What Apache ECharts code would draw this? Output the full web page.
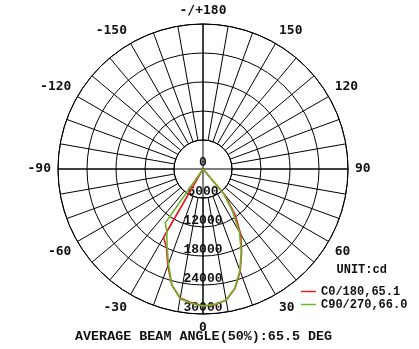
<!DOCTYPE html>
<html>
<head>
<meta charset="utf-8">
<script src="https://cdn.jsdelivr.net/npm/echarts@6/dist/echarts.min.js"></script>
<style>html,body{margin:0;padding:0;background:#fff;}#c{width:419px;height:349px;}</style>
</head>
<body>
<div id="c"></div>
<script>
// gamma angles (deg, 0 = straight down, + to the right)
const angles = [-45, -40, -35, -30, -25, -20, -15, -10, -5, 0, 5, 10, 15, 20, 25, 30, 35, 40, 45];
// C0/180 intensities (cd)
const c0Values = [0, 0, 0, 16300, 17900, 21300, 24900, 27100, 27750, 28350, 28200, 27600, 25600, 22500, 18900, 15600, 11600, 7000, 0];
// C90/270 intensities (cd)
const c90Values = [0, 0, 13600, 14950, 17600, 20900, 24800, 27250, 27880, 28350, 28100, 27500, 25500, 22300, 18700, 15050, 10600, 6500, 0];
const seriesNames = ['C0/180,65.1', 'C90/270,66.0'];
const radiusTicks = [0, 6000, 12000, 18000, 24000, 30000];
const unitText = 'UNIT:cd';
const footerText = 'AVERAGE BEAM ANGLE(50%):65.5 DEG';

const toPolar = (vals) => vals.map((v, i) => [v, angles[i] < 0 ? angles[i] + 360 : angles[i]]);

const chart = echarts.init(document.getElementById('c'));
const black = '#000';
const CX = 203, CY = 169, R = 145;
chart.setOption({
  animation: false,
  backgroundColor: '#fff',
  polar: [
    {center: [CX, CY], radius: [29, R]},
    {center: [CX, CY], radius: [0, R]}
  ],
  angleAxis: [
    {
      polarIndex: 0, type: 'value', min: -180, max: 180, interval: 10,
      startAngle: 90, clockwise: false,
      axisLine: {show: true, lineStyle: {color: black, width: 1}},
      axisTick: {show: false},
      axisLabel: {
        show: true, margin: 7, color: '#111', fontFamily: 'DejaVu Sans Mono', fontSize: 13, fontWeight: 'bold',
        formatter: (v) => (v % 30 !== 0 || v === 180) ? '' : (v === -180 ? '-/+180' : String(v))
      },
      splitLine: {show: true, lineStyle: {color: black, width: 1}}
    },
    {
      polarIndex: 1, type: 'value', min: 0, max: 360, interval: 90,
      startAngle: 270, clockwise: false,
      axisLine: {show: false}, axisTick: {show: false}, axisLabel: {show: false},
      splitLine: {show: true, lineStyle: {color: black, width: 1}}
    }
  ],
  radiusAxis: [
    {
      polarIndex: 0, type: 'value', min: 6000, max: 30000, interval: 6000,
      axisLine: {show: false}, axisTick: {show: false}, axisLabel: {show: false},
      splitLine: {show: true, lineStyle: {color: black, width: 1}}
    },
    {
      polarIndex: 1, type: 'value', min: radiusTicks[0], max: radiusTicks[radiusTicks.length - 1], interval: 6000,
      axisLine: {show: false}, axisTick: {show: false},
      axisLabel: {show: true, margin: 0, align: 'center', verticalAlign: 'bottom',
        color: '#111', fontFamily: 'Liberation Mono', fontSize: 13, fontWeight: 'bold', hideOverlap: false,
        formatter: (v) => String(v)},
      splitLine: {show: false}
    }
  ],
  legend: {
    orient: 'vertical', left: 296, top: 280.5, itemWidth: 15, itemHeight: 1.5, itemGap: 1,
    icon: 'rect',
    textStyle: {fontFamily: 'Liberation Mono', fontSize: 12, fontWeight: 'bold', color: '#111', lineHeight: 12},
    data: seriesNames
  },
  series: [
    {name: seriesNames[0], type: 'line', coordinateSystem: 'polar', polarIndex: 1,
     symbol: 'none', data: toPolar(c0Values), lineStyle: {color: '#ec1f1f', width: 1.6},
     itemStyle: {color: '#ec1f1f'}, z: 5},
    {name: seriesNames[1], type: 'line', coordinateSystem: 'polar', polarIndex: 1,
     symbol: 'none', data: toPolar(c90Values), lineStyle: {color: '#6cb52d', width: 1.6},
     itemStyle: {color: '#6cb52d'}, z: 6}
  ],
  graphic: [
    {type: 'text', left: 336.5, top: 263.5, style: {text: unitText, fill: '#111', font: 'bold 12px "Liberation Mono"'}},
    {type: 'text', left: 75, top: 330.5, style: {text: footerText, fill: '#111', font: 'bold 13.4px "Liberation Mono"'}}
  ]
});
</script>
</body>
</html>
